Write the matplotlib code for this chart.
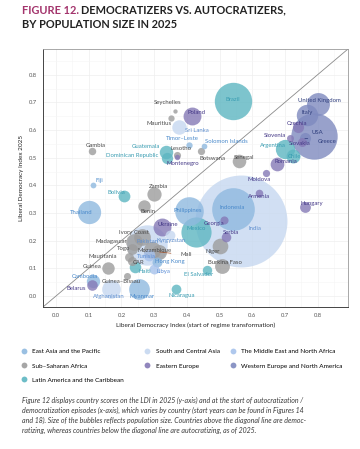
import numpy as np
import matplotlib
matplotlib.use("Agg")
from matplotlib import pyplot as plt
from matplotlib.lines import Line2D

FONT = ["Lato", "DejaVu Sans"]

# data: LDI at episode start (x), LDI 2025 (y), population (millions)
countries = ["India", "USA", "Indonesia", "Pakistan", "Brazil", "Mexico", "Philippines",
             "Thailand", "United Kingdom", "Italy", "Myanmar", "Argentina", "Afghanistan",
             "Poland", "Ukraine", "Mozambique", "Madagascar", "Ivory Coast", "Niger",
             "Mali", "Burkina Faso", "Sri Lanka", "Zambia", "Chile", "Romania", "Senegal",
             "Guatemala", "Cambodia", "Benin", "Guinea", "Bolivia", "Tunisia", "Haiti",
             "Dominican Republic", "Czechia", "Greece", "Hungary", "Togo", "Belarus",
             "Hong Kong", "Libya", "Kyrgyzstan", "Nicaragua", "Serbia", "El Salvador",
             "CAR", "Slovakia", "Mauritania", "Georgia", "Armenia", "Gambia", "Botswana",
             "Moldova", "Lesotho", "Guinea\u2013Bissau", "Slovenia", "Timor\u2013Leste", "Mauritius",
             "Fiji", "Solomon Islands", "Montenegro", "Seychelles"]
region = ["SCA", "WENA", "EAP", "SCA", "LAC", "LAC", "EAP",
          "EAP", "WENA", "WENA", "EAP", "LAC", "SCA",
          "EE", "EE", "SSA", "SSA", "SSA", "SSA",
          "SSA", "SSA", "SCA", "SSA", "LAC", "EE", "SSA",
          "LAC", "EAP", "SSA", "SSA", "LAC", "MENA", "LAC",
          "LAC", "EE", "WENA", "EE", "SSA", "EE",
          "EAP", "MENA", "SCA", "LAC", "EE", "LAC",
          "SSA", "EE", "SSA", "EE", "EE", "SSA", "SSA",
          "EE", "SSA", "SSA", "EE", "EAP", "SSA",
          "EAP", "EAP", "EE", "SSA"]
ldi_start = [0.567, 0.788, 0.540, 0.279, 0.540, 0.429, 0.408,
             0.101, 0.801, 0.767, 0.255, 0.699, 0.169,
             0.417, 0.325, 0.294, 0.239, 0.264, 0.500,
             0.316, 0.509, 0.377, 0.301, 0.724, 0.675, 0.561,
             0.337, 0.113, 0.270, 0.160, 0.209, 0.285, 0.242,
             0.340, 0.739, 0.761, 0.761, 0.233, 0.110,
             0.310, 0.301, 0.347, 0.368, 0.521, 0.463,
             0.233, 0.752, 0.224, 0.515, 0.620, 0.110, 0.442,
             0.641, 0.371, 0.218, 0.715, 0.408, 0.353,
             0.113, 0.454, 0.371, 0.365]
ldi_2025 = [0.271, 0.578, 0.314, 0.184, 0.704, 0.231, 0.307,
            0.303, 0.693, 0.653, 0.025, 0.531, 0.025,
            0.650, 0.249, 0.166, 0.195, 0.213, 0.180,
            0.159, 0.108, 0.610, 0.368, 0.505, 0.477, 0.487,
            0.520, 0.054, 0.325, 0.101, 0.361, 0.148, 0.105,
            0.498, 0.610, 0.570, 0.321, 0.170, 0.040,
            0.123, 0.097, 0.220, 0.025, 0.213, 0.094,
            0.126, 0.556, 0.141, 0.274, 0.372, 0.523, 0.523,
            0.444, 0.509, 0.072, 0.570, 0.545, 0.643,
            0.401, 0.542, 0.502, 0.668]
population = [1450, 340, 283, 251, 212, 131, 116,
              72, 69, 59, 54.5, 45.7, 42,
              38, 38, 35, 32, 32, 27,
              24, 23.5, 22, 21, 19.8, 19, 18.5,
              18, 17.6, 14.5, 14.5, 12.5, 12.3, 11.8,
              11, 10.7, 10.3, 9.6, 9.5, 9,
              7.5, 7.4, 7.2, 7, 6.7, 6.3,
              5.5, 5.4, 5.2, 3.8, 3, 2.8, 2.5,
              2.4, 2.3, 2.2, 2.1, 1.4, 1.3,
              0.9, 0.8, 0.6, 0.1]

region_names = {
    "EAP": "East Asia and the Pacific",
    "SSA": "Sub\u2013Saharan Africa",
    "LAC": "Latin America and the Caribbean",
    "SCA": "South and Central Asia",
    "EE": "Eastern Europe",
    "MENA": "The Middle East and North Africa",
    "WENA": "Western Europe and North America",
}
fill = {"EAP": "#8fb9df", "SSA": "#9d9d9d", "LAC": "#5db6c1", "SCA": "#c6d8f0",
        "EE": "#8579b6", "MENA": "#a7c2ec", "WENA": "#7e8abf"}
text_col = {"EAP": "#4a8acb", "SSA": "#4a4a4a", "LAC": "#3a9db2", "SCA": "#5f8fcf",
            "EE": "#463a88", "MENA": "#5a8dd6", "WENA": "#2e3d7c"}

# label offsets in pixels from the bubble centre (layout only)
label_off = {
    "Gambia": (4, 6), "Mauritius": (-12, -5), "Seychelles": (-8, 9), "Sri Lanka": (18, -3),
    "Poland": (4, 4), "Fiji": (6, 5), "Brazil": (0, 2), "Timor\u2013Leste": (-7, 7),
    "Solomon Islands": (22, 5), "Lesotho": (4, 7), "Botswana": (12, -7),
    "Guatemala": (-20, 6), "Dominican Republic": (-35, 3), "Montenegro": (5, -6),
    "Senegal": (5, 4), "United Kingdom": (2, 4), "Italy": (0, 3), "Czechia": (-1, 4),
    "USA": (4, 4), "Greece": (22, -3), "Slovakia": (-2, -1), "Slovenia": (-15, 3),
    "Argentina": (-12, 4), "Chile": (2, 0), "Romania": (9, 3), "Moldova": (-6, -6),
    "Zambia": (4, 8), "Benin": (4, -5), "Bolivia": (-8, 4), "Thailand": (-8, 0),
    "Ukraine": (5, 3), "Philippines": (-2, 1), "Mexico": (0, 4), "Indonesia": (0, 2),
    "India": (14, -8), "Armenia": (0, -3), "Hungary": (7, 4), "Georgia": (-10, -3),
    "Serbia": (5, 5), "Niger": (-7, -5), "Burkina Faso": (2, 4), "El Salvador": (-9, -5),
    "Nicaragua": (5, -6), "Kyrgyzstan": (2, -5), "Mali": (27, -3), "Mozambique": (2, 0),
    "Tunisia": (-3, -1), "Hong Kong": (12, 0), "Libya": (9, -2), "Haiti": (10, -5),
    "CAR": (6, -1), "Mauritania": (-27, 0), "Guinea": (-16, 2), "Guinea\u2013Bissau": (-6, -5),
    "Cambodia": (-8, 5), "Belarus": (-16, -4), "Afghanistan": (-2, -7), "Myanmar": (3, -7),
    "Madagascar": (-23, 1), "Ivory Coast": (-8, 5), "Togo": (-9, 0), "Pakistan": (0, 4),
}
leaders = {"Mali": "#a0522d", "Greece": "#2e3d7c"}

fig = plt.figure(figsize=(3.6, 4.49), dpi=100)
ax = fig.add_axes([43 / 360, 1 - 307 / 449, 305 / 360, 258 / 449])

pop = np.array(population)
r_px = 1.8 + 1.16 * np.sqrt(pop)
sizes = (2 * r_px * 0.72) ** 2
order = np.argsort(-pop)
for i in order:
    ax.scatter(ldi_start[i], ldi_2025[i], s=sizes[i], color=fill[region[i]],
               alpha=0.8, linewidths=0, zorder=3)

ax.plot([-0.04, 0.893], [-0.04, 0.893], color="#8a8a8a", lw=0.6, zorder=2)

for i, name in enumerate(countries):
    dx, dy = label_off[name]
    arrow = None
    if name in leaders:
        arrow = dict(arrowstyle="-", color=leaders[name], lw=0.5, shrinkA=5, shrinkB=0)
    ax.annotate(name, (ldi_start[i], ldi_2025[i]), xytext=(dx, dy),
                textcoords="offset pixels", ha="center", va="center",
                fontsize=4.3, family=FONT, color=text_col[region[i]], zorder=5,
                arrowprops=arrow)

ax.set_xlim(-0.04, 0.893)
ax.set_ylim(-0.04, 0.893)
ticks = np.arange(0, 0.81, 0.1)
ax.set_xticks(ticks)
ax.set_yticks(ticks)
ax.set_xticks(np.arange(0.05, 0.9, 0.1), minor=True)
ax.set_yticks(np.arange(0.05, 0.9, 0.1), minor=True)
ax.set_xticklabels([f"{t:.1f}" for t in ticks], fontsize=4.2, color="#555555", family=FONT)
ax.set_yticklabels([f"{t:.1f}" for t in ticks], fontsize=4.2, color="#555555", family=FONT)
ax.tick_params(which="both", length=0, pad=4)
ax.grid(which="major", color="#eeeeee", lw=0.5, zorder=0)
ax.grid(which="minor", color="#f5f5f5", lw=0.4, zorder=0)
ax.set_axisbelow(True)
for side in ["top", "right"]:
    ax.spines[side].set_color("#9a9a9a")
    ax.spines[side].set_linewidth(0.6)
for side in ["left", "bottom"]:
    ax.spines[side].set_color("#444444")
    ax.spines[side].set_linewidth(0.7)
ax.set_xlabel("Liberal Democracy Index (start of regime transformation)", fontsize=4.6,
              family=FONT, color="#222222", labelpad=3.5)
ax.set_ylabel("Liberal Democracy Index 2025", fontsize=4.6, family=FONT,
              color="#222222", labelpad=4)

# title
fig.text(22 / 360, 1 - 10 / 449, "FIGURE 12.", fontsize=7.9, fontweight="bold",
         family=FONT, color="#a3346c", va="center")
fig.text(81 / 360, 1 - 10 / 449, "DEMOCRATIZERS VS. AUTOCRATIZERS,", fontsize=7.9,
         fontweight="bold", family=FONT, color="#222222", va="center")
fig.text(22 / 360, 1 - 25 / 449, "BY POPULATION SIZE IN 2025", fontsize=7.9,
         fontweight="bold", family=FONT, color="#222222", va="center")

# legend in three columns
columns = [["EAP", "SSA", "LAC"], ["SCA", "EE"], ["MENA", "WENA"]]
col_x = [21 / 360, 144 / 360, 230 / 360]
for keys, x0 in zip(columns, col_x):
    handles = [Line2D([], [], marker="o", ls="", markersize=4.2, markeredgewidth=0,
                      color=fill[k], alpha=0.9) for k in keys]
    fig.legend(handles, [region_names[k] for k in keys], loc="upper left",
               bbox_to_anchor=(x0, 1 - 349 / 449), frameon=False,
               prop={"family": FONT, "size": 4.6}, labelspacing=1.35,
               handletextpad=0.8, handlelength=1.0, borderpad=0, borderaxespad=0)

caption = ("Figure 12 displays country scores on the LDI in 2025 (y-axis) and at the start of autocratization /\n"
           "democratization episodes (x-axis), which varies by country (start years can be found in Figures 14\n"
           "and 18). Size of the bubbles reflects population size. Countries above the diagonal line are democ-\n"
           "ratizing, whereas countries below the diagonal line are autocratizing, as of 2025.")
cap = fig.text(22 / 360, 1 - 397 / 449, caption, fontsize=5.0, style="italic", family=FONT,
               color="#3a3a3a", va="top", linespacing=1.45)

# shrink the caption so its widest line ends where the reference's does
fig.canvas.draw()
bb = cap.get_window_extent()
target = 338 - 22
if bb.width > target:
    cap.set_fontsize(5.0 * target / bb.width)

fig.savefig("out.png", dpi=100)
